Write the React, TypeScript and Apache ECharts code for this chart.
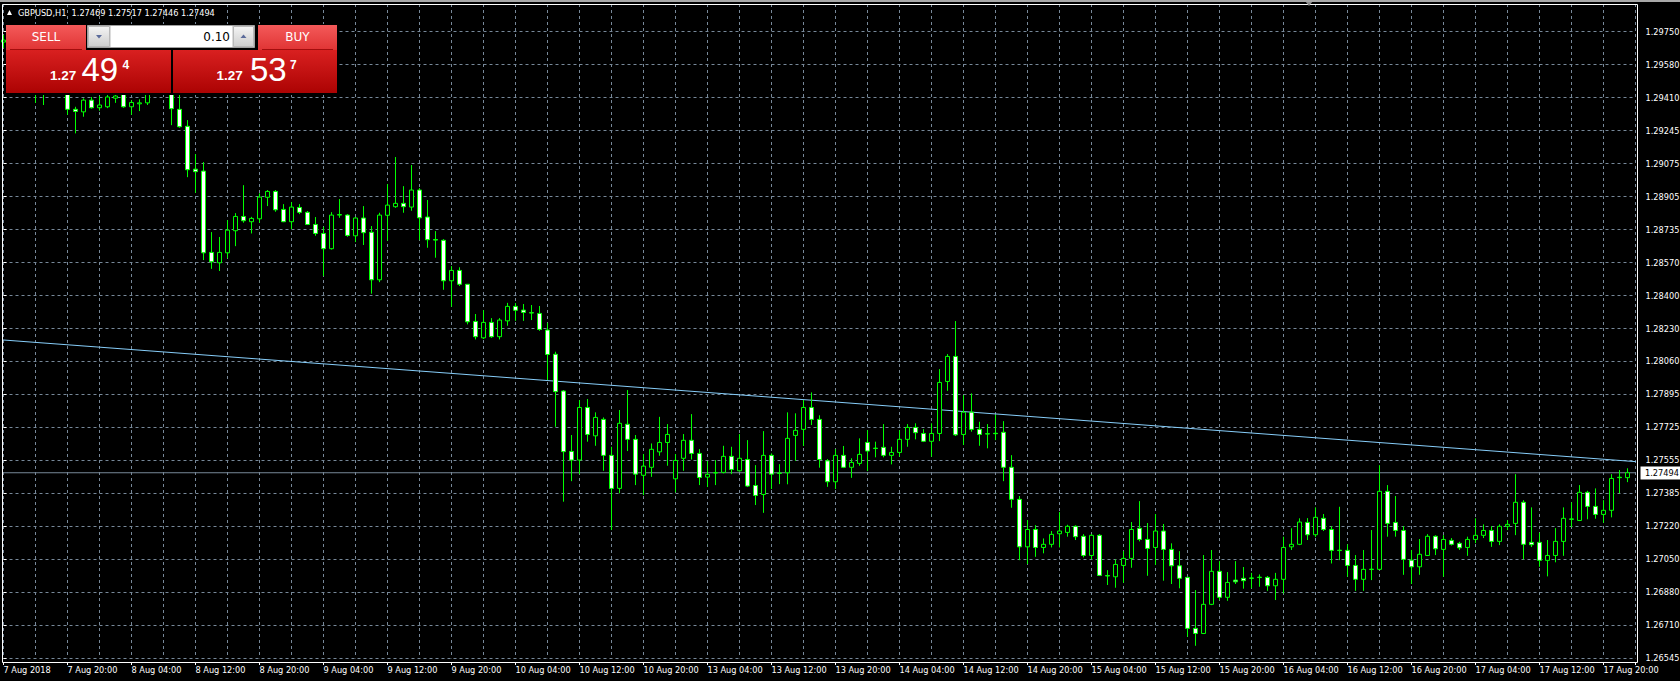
import React, { useEffect, useRef } from 'react';
import * as echarts from 'echarts';

// ---------- data ----------
const SYMBOL = 'GBPUSD';
const TIMEFRAME = 'H1';
const LOT = 0.1;
const ASK = 1.27537;

// Hourly bars [open, high, low, close]
const aug07 = [
  [1.29697, 1.29733, 1.29666, 1.29707], [1.29707, 1.29728, 1.29630, 1.29656], [1.29656, 1.29687, 1.29595, 1.29615],
  [1.29615, 1.29666, 1.29564, 1.29646], [1.29646, 1.29666, 1.29386, 1.29477], [1.29477, 1.29554, 1.29375, 1.29513],
  [1.29513, 1.29605, 1.29462, 1.29554], [1.29554, 1.29595, 1.29451, 1.29492], [1.29492, 1.29513, 1.29325, 1.29353],
  [1.29353, 1.29366, 1.29230, 1.29342], [1.29340, 1.29409, 1.29315, 1.29400], [1.29400, 1.29416, 1.29357, 1.29361],
];
const aug08 = [
  [1.29361, 1.29421, 1.29346, 1.29375], [1.29366, 1.29431, 1.29359, 1.29416], [1.29410, 1.29441, 1.29386, 1.29421],
  [1.29441, 1.29457, 1.29361, 1.29366], [1.29366, 1.29400, 1.29325, 1.29388], [1.29381, 1.29404, 1.29344, 1.29386],
  [1.29386, 1.29451, 1.29375, 1.29431], [1.29431, 1.29492, 1.29428, 1.29462], [1.29462, 1.29482, 1.29431, 1.29441],
  [1.29441, 1.29451, 1.29272, 1.29356], [1.29353, 1.29431, 1.29259, 1.29264], [1.29266, 1.29298, 1.29006, 1.29044],
  [1.29047, 1.29124, 1.28926, 1.29034], [1.29037, 1.29083, 1.28582, 1.28619], [1.28621, 1.28725, 1.28537, 1.28573],
  [1.28568, 1.28700, 1.28526, 1.28621], [1.28619, 1.28786, 1.28591, 1.28735], [1.28732, 1.28822, 1.28653, 1.28805],
  [1.28805, 1.28965, 1.28773, 1.28783], [1.28778, 1.28803, 1.28718, 1.28795], [1.28793, 1.28923, 1.28773, 1.28904],
  [1.28903, 1.28940, 1.28858, 1.28933], [1.28933, 1.28940, 1.28829, 1.28839], [1.28841, 1.28868, 1.28776, 1.28778],
];
const aug09 = [
  [1.28778, 1.28879, 1.28740, 1.28853], [1.28851, 1.28868, 1.28817, 1.28826], [1.28826, 1.28833, 1.28761, 1.28764],
  [1.28764, 1.28802, 1.28706, 1.28718], [1.28718, 1.28752, 1.28500, 1.28640], [1.28640, 1.28827, 1.28636, 1.28812],
  [1.28812, 1.28894, 1.28798, 1.28815], [1.28812, 1.28817, 1.28701, 1.28708], [1.28706, 1.28802, 1.28674, 1.28797],
  [1.28797, 1.28858, 1.28659, 1.28722], [1.28724, 1.28756, 1.28410, 1.28481], [1.28481, 1.28824, 1.28469, 1.28812],
  [1.28811, 1.28971, 1.28681, 1.28863], [1.28855, 1.29109, 1.28849, 1.28872], [1.28872, 1.28960, 1.28824, 1.28855],
  [1.28853, 1.29068, 1.28834, 1.28940], [1.28940, 1.28950, 1.28684, 1.28798], [1.28802, 1.28889, 1.28645, 1.28686],
  [1.28687, 1.28730, 1.28594, 1.28684], [1.28683, 1.28689, 1.28430, 1.28476], [1.28476, 1.28551, 1.28343, 1.28529],
  [1.28529, 1.28545, 1.28449, 1.28458], [1.28458, 1.28459, 1.28253, 1.28266], [1.28268, 1.28306, 1.28176, 1.28190],
];
const aug10 = [
  [1.28184, 1.28326, 1.28178, 1.28263], [1.28263, 1.28285, 1.28184, 1.28190], [1.28190, 1.28285, 1.28176, 1.28275],
  [1.28271, 1.28363, 1.28246, 1.28345], [1.28345, 1.28362, 1.28271, 1.28325], [1.28326, 1.28357, 1.28271, 1.28314],
  [1.28313, 1.28352, 1.28275, 1.28311], [1.28309, 1.28347, 1.28220, 1.28227], [1.28224, 1.28261, 1.27968, 1.28099],
  [1.28100, 1.28113, 1.27729, 1.27909], [1.27912, 1.27917, 1.27346, 1.27602], [1.27603, 1.27687, 1.27451, 1.27559],
  [1.27559, 1.27866, 1.27487, 1.27828], [1.27828, 1.27871, 1.27653, 1.27690], [1.27683, 1.27803, 1.27632, 1.27777],
  [1.27767, 1.27777, 1.27504, 1.27583], [1.27583, 1.27627, 1.27201, 1.27414], [1.27414, 1.27815, 1.27389, 1.27747],
  [1.27742, 1.27917, 1.27605, 1.27665], [1.27665, 1.27687, 1.27431, 1.27487], [1.27481, 1.27590, 1.27380, 1.27528],
  [1.27522, 1.27644, 1.27473, 1.27614], [1.27601, 1.27780, 1.27581, 1.27649], [1.27649, 1.27743, 1.27530, 1.27690],
];
const aug13 = [
  [1.27463, 1.27590, 1.27394, 1.27557], [1.27568, 1.27692, 1.27504, 1.27660], [1.27660, 1.27794, 1.27562, 1.27593],
  [1.27593, 1.27615, 1.27431, 1.27470], [1.27472, 1.27554, 1.27421, 1.27486], [1.27493, 1.27559, 1.27431, 1.27495],
  [1.27496, 1.27632, 1.27491, 1.27578], [1.27578, 1.27627, 1.27487, 1.27511], [1.27504, 1.27692, 1.27500, 1.27568],
  [1.27562, 1.27661, 1.27421, 1.27426], [1.27429, 1.27533, 1.27329, 1.27378], [1.27383, 1.27707, 1.27289, 1.27583],
  [1.27583, 1.27593, 1.27411, 1.27487], [1.27493, 1.27538, 1.27436, 1.27491], [1.27494, 1.27803, 1.27435, 1.27670],
  [1.27685, 1.27798, 1.27555, 1.27711], [1.27716, 1.27866, 1.27631, 1.27828], [1.27828, 1.27905, 1.27738, 1.27767],
  [1.27767, 1.27788, 1.27520, 1.27562], [1.27555, 1.27564, 1.27422, 1.27448], [1.27448, 1.27615, 1.27411, 1.27583],
  [1.27583, 1.27631, 1.27518, 1.27522], [1.27522, 1.27568, 1.27468, 1.27547], [1.27542, 1.27670, 1.27530, 1.27588],
];
const aug14 = [
  [1.27649, 1.27712, 1.27503, 1.27605], [1.27620, 1.27653, 1.27573, 1.27618], [1.27624, 1.27743, 1.27573, 1.27583],
  [1.27583, 1.27627, 1.27537, 1.27598], [1.27598, 1.27712, 1.27576, 1.27665], [1.27665, 1.27743, 1.27627, 1.27726],
  [1.27726, 1.27747, 1.27665, 1.27699], [1.27695, 1.27717, 1.27651, 1.27655], [1.27655, 1.27747, 1.27576, 1.27695],
  [1.27695, 1.28024, 1.27656, 1.27956], [1.27961, 1.28101, 1.27913, 1.28089], [1.28089, 1.28270, 1.27682, 1.27688],
  [1.27690, 1.27891, 1.27636, 1.27804], [1.27804, 1.27900, 1.27704, 1.27716], [1.27716, 1.27755, 1.27632, 1.27690],
  [1.27694, 1.27743, 1.27619, 1.27692], [1.27696, 1.27791, 1.27661, 1.27694], [1.27701, 1.27758, 1.27451, 1.27522],
  [1.27522, 1.27584, 1.27315, 1.27358], [1.27358, 1.27375, 1.27047, 1.27115], [1.27115, 1.27252, 1.27027, 1.27204],
  [1.27204, 1.27226, 1.27064, 1.27112], [1.27112, 1.27158, 1.27082, 1.27128], [1.27128, 1.27196, 1.27112, 1.27179],
];
const aug15 = [
  [1.27182, 1.27293, 1.27112, 1.27196], [1.27189, 1.27228, 1.27167, 1.27220], [1.27220, 1.27225, 1.27150, 1.27167],
  [1.27169, 1.27180, 1.27061, 1.27071], [1.27071, 1.27180, 1.27051, 1.27174], [1.27174, 1.27180, 1.26966, 1.26969],
  [1.26968, 1.26996, 1.26920, 1.26966], [1.26962, 1.27051, 1.26906, 1.27025], [1.27020, 1.27093, 1.26931, 1.27056],
  [1.27056, 1.27242, 1.27008, 1.27204], [1.27210, 1.27349, 1.27143, 1.27153], [1.27153, 1.27237, 1.26967, 1.27107],
  [1.27112, 1.27283, 1.27022, 1.27196], [1.27196, 1.27232, 1.26942, 1.27102], [1.27102, 1.27133, 1.26925, 1.27018],
  [1.27018, 1.27093, 1.26903, 1.26954], [1.26959, 1.26962, 1.26655, 1.26698], [1.26698, 1.26894, 1.26609, 1.26672],
  [1.26672, 1.27073, 1.26669, 1.26821], [1.26821, 1.27099, 1.26817, 1.26990], [1.26990, 1.27042, 1.26843, 1.26857],
  [1.26857, 1.26986, 1.26839, 1.26933], [1.26945, 1.27042, 1.26925, 1.26936], [1.26954, 1.27012, 1.26901, 1.26942],
];
const aug16 = [
  [1.26956, 1.26982, 1.26903, 1.26954], [1.26960, 1.26974, 1.26911, 1.26958], [1.26959, 1.26966, 1.26890, 1.26916],
  [1.26916, 1.26982, 1.26843, 1.26949], [1.26949, 1.27167, 1.26877, 1.27112], [1.27115, 1.27210, 1.27099, 1.27128],
  [1.27128, 1.27261, 1.27124, 1.27242], [1.27240, 1.27262, 1.27150, 1.27177], [1.27177, 1.27317, 1.27165, 1.27266],
  [1.27261, 1.27283, 1.27196, 1.27204], [1.27204, 1.27221, 1.27030, 1.27097], [1.27098, 1.27320, 1.27047, 1.27096],
  [1.27097, 1.27128, 1.26962, 1.27020], [1.27020, 1.27073, 1.26890, 1.26949], [1.26949, 1.27099, 1.26890, 1.27000],
  [1.27001, 1.27201, 1.26945, 1.26999], [1.27000, 1.27533, 1.26996, 1.27399], [1.27399, 1.27431, 1.27167, 1.27235],
  [1.27240, 1.27375, 1.27167, 1.27199], [1.27199, 1.27221, 1.26972, 1.27051], [1.27047, 1.27099, 1.26925, 1.27013],
  [1.27013, 1.27155, 1.26972, 1.27077], [1.27071, 1.27180, 1.27068, 1.27169], [1.27169, 1.27174, 1.27073, 1.27105],
];
const aug17 = [
  [1.27102, 1.27175, 1.26962, 1.27153], [1.27148, 1.27160, 1.27122, 1.27128], [1.27133, 1.27141, 1.27099, 1.27110],
  [1.27112, 1.27167, 1.27069, 1.27153], [1.27153, 1.27261, 1.27134, 1.27174], [1.27174, 1.27230, 1.27160, 1.27199],
  [1.27199, 1.27221, 1.27115, 1.27143], [1.27143, 1.27230, 1.27124, 1.27220], [1.27220, 1.27252, 1.27201, 1.27230],
  [1.27235, 1.27487, 1.27175, 1.27343], [1.27343, 1.27354, 1.27051, 1.27128], [1.27138, 1.27317, 1.27114, 1.27126],
  [1.27138, 1.27187, 1.27013, 1.27046], [1.27046, 1.27150, 1.26964, 1.27071], [1.27071, 1.27211, 1.27036, 1.27143],
  [1.27143, 1.27317, 1.27069, 1.27261], [1.27258, 1.27343, 1.27215, 1.27256], [1.27250, 1.27431, 1.27247, 1.27394],
  [1.27394, 1.27402, 1.27256, 1.27322], [1.27322, 1.27414, 1.27259, 1.27281], [1.27281, 1.27354, 1.27238, 1.27302],
  [1.27302, 1.27487, 1.27266, 1.27465], [1.27471, 1.27508, 1.27389, 1.27469], [1.27469, 1.27517, 1.27446, 1.27494],
];

// Trend line anchors [bar index, price]
const trendAnchors = [[0, 1.28173], [203, 1.27554]];

// Axis tick labels
const xTickLabels = [
  '7 Aug 2018', '7 Aug 20:00', '8 Aug 04:00', '8 Aug 12:00', '8 Aug 20:00', '9 Aug 04:00', '9 Aug 12:00',
  '9 Aug 20:00', '10 Aug 04:00', '10 Aug 12:00', '10 Aug 20:00', '13 Aug 04:00', '13 Aug 12:00', '13 Aug 20:00',
  '14 Aug 04:00', '14 Aug 12:00', '14 Aug 20:00', '15 Aug 04:00', '15 Aug 12:00', '15 Aug 20:00', '16 Aug 04:00',
  '16 Aug 12:00', '16 Aug 20:00', '17 Aug 04:00', '17 Aug 12:00', '17 Aug 20:00',
];
const yTickLabels = [
  '1.26545', '1.26710', '1.26880', '1.27050', '1.27220', '1.27385', '1.27555', '1.27725', '1.27895', '1.28060',
  '1.28230', '1.28400', '1.28570', '1.28735', '1.28905', '1.29075', '1.29245', '1.29410', '1.29580', '1.29750',
];
const Y_MIN = 1.26545;
const Y_STEP = 0.00168684;
const Y_MAX = 1.2989168;

// ---------- layout / style ----------
const BAR_PX = 8;
const X_LABEL_EVERY = 8;
const X_GRID_EVERY = 4;
const GRID_LEFT = 3.5;
const GRID_TOP = 4;
const GRID_H = 654.3;
const LIME = '#00ff00';
const GRIDC = '#778899';
const FONT = '"DejaVu Sans", Tahoma, sans-serif';
const FS = 8.2;

const bars = [...aug07, ...aug08, ...aug09, ...aug10, ...aug13, ...aug14, ...aug15, ...aug16, ...aug17];
const N = bars.length;
const last = bars[N - 1];
const BID = last[3];

const splitPrice = (p: number) => {
  const s = p.toFixed(5);
  return [s.slice(0, 4), s.slice(4, 6), s.slice(6)];
};

function buildOption() {
  const candleData = bars.map(([o, h, l, c], i) => [i, o, c, l, h]);
  const [[x0, p0], [x1, p1]] = trendAnchors;
  const slope = (p1 - p0) / (x1 - x0);
  const edgeL = -(GRID_LEFT - 2) / BAR_PX;
  const edgeR = N + 1.5 / BAR_PX;
  const trendData = [edgeL, edgeR].map((x) => [x, p0 + (x - x0) * slope]);
  const bidData = [edgeL, edgeR].map((x) => [x, BID]);

  const dashed = { color: GRIDC, type: [3, 3], width: 1 };
  const lg = (a: string, b: string) =>
    new echarts.graphic.LinearGradient(0, 0, 0, 1, [
      { offset: 0, color: a },
      { offset: 1, color: b },
    ]);
  const txt = (text: string, x: number, y: number, o: any = {}) => ({
    type: 'text',
    silent: true,
    z: 120,
    style: {
      text,
      x,
      y,
      fill: o.fill || '#ffffff',
      fontFamily: o.fontFamily || FONT,
      fontSize: o.fontSize || FS,
      fontWeight: o.fontWeight || 'normal',
      align: o.align || 'left',
      verticalAlign: 'middle',
    },
  });
  const rect = (x: number, y: number, w: number, h: number, fill: any, stroke?: string) => ({
    type: 'rect',
    silent: true,
    z: 110,
    shape: { x, y, width: w, height: h },
    style: { fill, stroke: stroke || null, lineWidth: 1 },
  });

  const sellP = splitPrice(BID);
  const buyP = splitPrice(ASK);
  const header = `${SYMBOL},${TIMEFRAME}  ${last.map((v) => v.toFixed(5)).join(' ')}`;
  const tabFill = () => lg('#f45a5a', '#e03434');
  const boxFill = () => lg('#d92020', '#ac0303');
  const btnFill = () => lg('#f4f4f4', '#cdcdcd');
  const ARIAL = '"Liberation Sans", Arial, sans-serif';

  const graphics: any[] = [
    rect(0, 0, 1680, 2, '#a8a8a8'),
    {
      type: 'rect', silent: true, z: 100,
      shape: { x: 2.5, y: 4.5, width: 1635, height: 658 },
      style: { fill: 'none', stroke: '#ffffff', lineWidth: 1 },
    },
    { type: 'polygon', silent: true, z: 100, shape: { points: [[1305, 1], [1313, 1], [1309, 6]] }, style: { fill: '#8c8c8c' } },
    { type: 'polygon', silent: true, z: 100, shape: { points: [[7, 15], [12, 15], [9.5, 10]] }, style: { fill: '#ffffff' } },
    txt(header, 18, 13),
    // bid price tag on the price scale
    rect(1640.5, 466.5, 42, 13, '#ffffff'),
    txt(BID.toFixed(5), 1645, 473, { fill: '#000000' }),
    // trade panel
    rect(6, 24, 332, 71, '#000000'),
    rect(6, 25, 80, 25, tabFill()),
    rect(6, 50, 165, 43, boxFill()),
    { type: 'line', silent: true, z: 111, shape: { x1: 10, y1: 49.5, x2: 82, y2: 49.5 }, style: { stroke: '#a30d0d', lineWidth: 1 } },
    rect(87.5, 25.5, 167, 22, '#dcdcdc', '#a0a0a0'),
    rect(88.5, 26.5, 21, 20, btnFill(), '#b8b8b8'),
    { type: 'polygon', silent: true, z: 112, shape: { points: [[96, 35], [102, 35], [99, 38.5]] }, style: { fill: '#5a6a9a' } },
    rect(111, 26, 121, 21, '#ffffff'),
    rect(233.5, 26.5, 20, 20, btnFill(), '#b8b8b8'),
    { type: 'polygon', silent: true, z: 112, shape: { points: [[240.5, 38], [246.5, 38], [243.5, 34.5]] }, style: { fill: '#5a6a9a' } },
    txt(LOT.toFixed(2), 230, 36.5, { fill: '#000000', fontSize: 12, align: 'right' }),
    rect(258, 25, 79, 25, tabFill()),
    rect(173, 50, 164, 43, boxFill()),
    { type: 'line', silent: true, z: 111, shape: { x1: 262, y1: 49.5, x2: 333, y2: 49.5 }, style: { stroke: '#a30d0d', lineWidth: 1 } },
    txt('SELL', 46, 37, { fontSize: 12, align: 'center' }),
    txt('BUY', 297.5, 37, { fontSize: 12, align: 'center' }),
    txt(sellP[0], 50, 75.5, { fontFamily: ARIAL, fontSize: 13.5, fontWeight: 'bold' }),
    txt(sellP[1], 81.5, 69.5, { fontFamily: ARIAL, fontSize: 33 }),
    txt(sellP[2], 122.5, 65, { fontFamily: ARIAL, fontSize: 12, fontWeight: 'bold' }),
    txt(buyP[0], 216.5, 75.5, { fontFamily: ARIAL, fontSize: 13.5, fontWeight: 'bold' }),
    txt(buyP[1], 250, 69.5, { fontFamily: ARIAL, fontSize: 33 }),
    txt(buyP[2], 290, 65, { fontFamily: ARIAL, fontSize: 12, fontWeight: 'bold' }),
  ];

  return {
    animation: false,
    backgroundColor: '#000000',
    grid: {
      left: GRID_LEFT,
      top: GRID_TOP,
      width: N * BAR_PX,
      height: GRID_H,
      containLabel: false,
      outerBoundsMode: 'none',
    },
    xAxis: [
      {
        type: 'value',
        min: 0,
        max: N,
        interval: X_GRID_EVERY,
        axisLine: { show: false },
        axisTick: { show: false },
        axisLabel: { show: false },
        splitLine: { show: true, lineStyle: dashed },
      },
      {
        type: 'value',
        min: 0,
        max: N,
        interval: X_LABEL_EVERY,
        position: 'bottom',
        offset: 3.7,
        axisLine: { show: false },
        axisTick: { show: true, length: 3, lineStyle: { color: '#ffffff', width: 1 } },
        axisLabel: {
          show: true,
          color: '#ffffff',
          fontFamily: FONT,
          fontSize: FS,
          align: 'left',
          margin: 4,
          showMinLabel: true,
          showMaxLabel: true,
          formatter: (v: number) => {
            const k = Math.round(v / X_LABEL_EVERY);
            return Math.abs(v - k * X_LABEL_EVERY) < 1e-6 && xTickLabels[k] ? xTickLabels[k] : '';
          },
        },
        splitLine: { show: false },
      },
    ],
    yAxis: {
      type: 'value',
      position: 'right',
      min: Y_MIN,
      max: Y_MAX,
      interval: Y_STEP,
      offset: 2,
      axisLine: { show: false },
      axisTick: { show: true, length: 3, lineStyle: { color: '#ffffff', width: 1 } },
      axisLabel: {
        show: true,
        color: '#ffffff',
        fontFamily: FONT,
        fontSize: FS,
        margin: 8,
        showMinLabel: true,
        showMaxLabel: true,
        formatter: (v: number) => {
          const k = Math.round((v - Y_MIN) / Y_STEP);
          return Math.abs(v - (Y_MIN + k * Y_STEP)) < 1e-7 && yTickLabels[k] ? yTickLabels[k] : '';
        },
      },
      splitLine: { show: true, lineStyle: dashed },
    },
    series: [
      {
        type: 'line',
        xAxisIndex: 0,
        yAxisIndex: 0,
        data: trendData,
        symbol: 'none',
        showSymbol: false,
        clip: false,
        silent: true,
        z: 1,
        lineStyle: { color: '#87cefa', width: 1 },
      },
      {
        type: 'line',
        xAxisIndex: 0,
        yAxisIndex: 0,
        data: bidData,
        symbol: 'none',
        showSymbol: false,
        clip: false,
        silent: true,
        z: 1,
        lineStyle: { color: GRIDC, width: 1 },
      },
      {
        type: 'candlestick',
        xAxisIndex: 0,
        yAxisIndex: 0,
        data: candleData,
        encode: { x: 0, y: [1, 2, 3, 4] },
        barWidth: 4,
        clip: false,
        silent: true,
        z: 3,
        itemStyle: {
          color: '#000000',
          color0: '#ffffff',
          borderColor: LIME,
          borderColor0: LIME,
          borderColorDoji: LIME,
          borderWidth: 1,
        },
        emphasis: { disabled: true },
      },
    ],
    graphic: { elements: graphics },
  };
}

export default function App() {
  const ref = useRef<HTMLDivElement>(null);
  useEffect(() => {
    if (!ref.current) return;
    const chart = echarts.init(ref.current, undefined, { renderer: 'svg' });
    chart.setOption(buildOption() as any);
    return () => chart.dispose();
  }, []);
  return (
    <div
      ref={ref}
      style={{ position: 'fixed', left: 0, top: 0, width: 1680, height: 681, background: '#000000' }}
    />
  );
}
